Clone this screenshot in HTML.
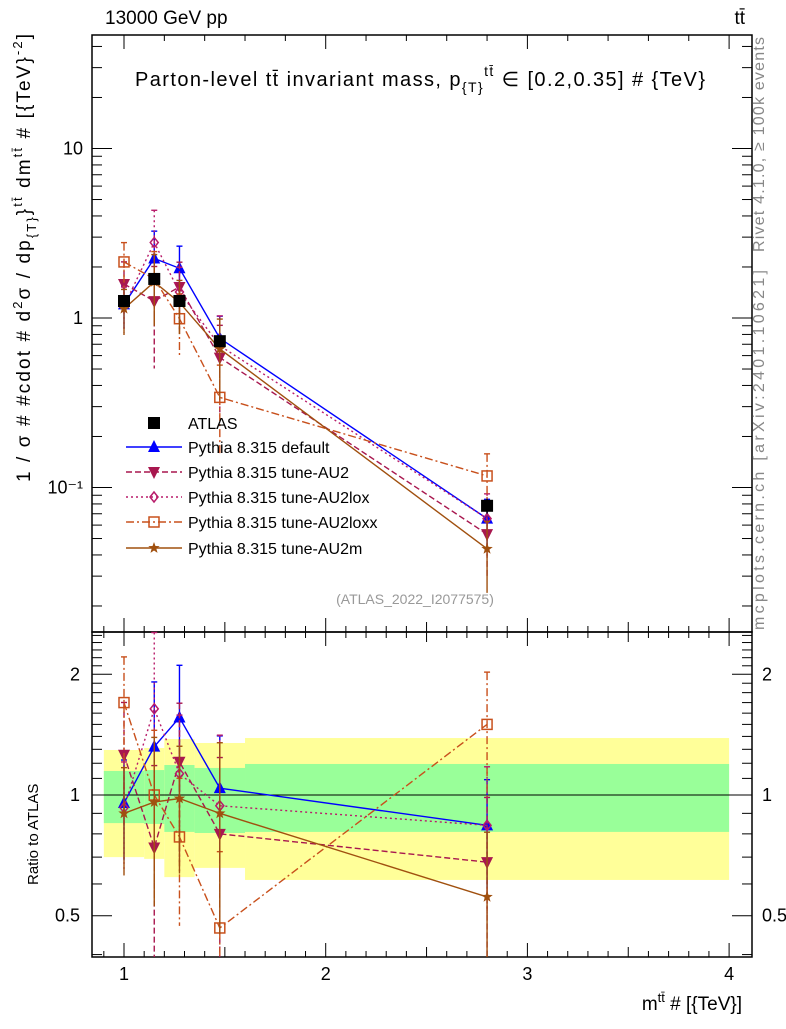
<!DOCTYPE html>
<html><head><meta charset="utf-8"><style>
body{margin:0;background:#fff;}
svg text{font-family:"Liberation Sans",sans-serif;}
</style></head><body>
<svg id="c" width="786" height="1024" xmlns="http://www.w3.org/2000/svg">
<rect width="786" height="1024" fill="#fff"/>
<g id="bands"></g>
<g id="axes"></g>
<g id="series"></g>
<text x="105" y="24" font-size="19">13000 GeV pp</text>
<text x="745" y="24" font-size="19" text-anchor="end">tt̄</text>
<text x="135" y="86" font-size="20" textLength="570" lengthAdjust="spacing">Parton-level tt̄ invariant mass, p<tspan font-size="14" dy="6">{T}</tspan><tspan font-size="14" dy="-16">tt̄</tspan><tspan dy="10"> ∈ [0.2,0.35] # {TeV}</tspan></text>
<text x="415" y="604" font-size="14" fill="#999" text-anchor="middle">(ATLAS_2022_I2077575)</text>
<text transform="translate(764,252) rotate(-90)" font-size="16" fill="#888" textLength="215">Rivet 4.1.0, ≥ 100k events</text>
<text transform="translate(764,630) rotate(-90)" font-size="16" fill="#888" textLength="360">mcplots.cern.ch [arXiv:2401.10621]</text>
<text transform="translate(30,482) rotate(-90)" font-size="19" textLength="448">1 / σ # #cdot # d<tspan font-size="13" dy="-8">2</tspan><tspan dy="8">σ / dp</tspan><tspan font-size="13" dy="6">{T}</tspan><tspan dy="-6">}</tspan><tspan font-size="13" dy="-8">tt̄</tspan><tspan dy="8"> dm</tspan><tspan font-size="13" dy="-8">tt̄</tspan><tspan dy="8"> # [{TeV}</tspan><tspan font-size="13" dy="-8">-2</tspan><tspan dy="8">]</tspan></text>
<text transform="translate(38,885) rotate(-90)" font-size="15">Ratio to ATLAS</text>
<text x="742" y="1010" font-size="19" text-anchor="end">m<tspan font-size="13" dy="-8">tt̄</tspan><tspan dy="8"> # [{TeV}]</tspan></text>
<g id="legend"></g>
</svg>
<script>
const xCenters=[1.0,1.15,1.275,1.475,2.8];
const binEdges=[0.9,1.1,1.2,1.35,1.6,4.0];
const atlasVals=[1.26,1.70,1.26,0.73,0.078];
const atlasErr=[0.08,0.08,0.08,0.08,0.1];
const bandInnerHi=[1.148,1.154,1.188,1.168,1.195];
const bandInnerLo=[0.851,0.847,0.809,0.804,0.809];
const bandOuterHi=[1.295,1.31,1.379,1.348,1.387];
const bandOuterLo=[0.70,0.693,0.624,0.658,0.614];
const ratioDefault=[0.955,1.32,1.56,1.04,0.84];
const ratioAU2=[1.26,0.74,1.21,0.80,0.68];
const ratioAU2lox=[0.93,1.64,1.13,0.94,0.84];
const ratioAU2loxx=[1.70,1.00,0.786,0.466,1.50];
const ratioAU2m=[0.90,0.96,0.98,0.90,0.557];
const errDefault=[0.28,0.45,0.35,0.35,0.3];
const errAU2=[0.35,0.6,0.4,0.55,0.45];
const errAU2lox=[0.3,0.55,0.4,0.5,0.4];
const errAU2loxx=[0.3,0.45,0.4,0.55,0.35];
const errAU2m=[0.3,0.45,0.35,0.5,0.45];
const seriesNames=["Pythia 8.315 default","Pythia 8.315 tune-AU2","Pythia 8.315 tune-AU2lox","Pythia 8.315 tune-AU2loxx","Pythia 8.315 tune-AU2m"];

const NS="http://www.w3.org/2000/svg";
const L=92,R=752,T1=35,B1=632,T2=632,B2=957;
const X=v=>124+(v-1)*201.7;
const Y=v=>318-169.5*Math.log10(v);
const YR=v=>795-401*Math.log10(v);
function mk(tag,attrs,parent){const e=document.createElementNS(NS,tag);for(const k in attrs)e.setAttribute(k,attrs[k]);parent.appendChild(e);return e;}
const gB=document.getElementById('bands'),gA=document.getElementById('axes'),gS=document.getElementById('series'),gL=document.getElementById('legend');

for(let i=0;i<5;i++){
  const x0=X(binEdges[i]),x1=X(binEdges[i+1]);
  let r=mk('rect',{x:x0,y:YR(bandOuterHi[i]),width:x1-x0,height:YR(bandOuterLo[i])-YR(bandOuterHi[i]),fill:'#ffff99'},gB);
  
  
  r=mk('rect',{x:x0,y:YR(bandInnerHi[i]),width:x1-x0,height:YR(bandInnerLo[i])-YR(bandInnerHi[i]),fill:'#99ff99'},gB);
  
  
}
mk('line',{x1:L,x2:R,y1:YR(1),y2:YR(1),stroke:'#000','stroke-width':1},gB);

let f=mk('rect',{x:L,y:T1,width:R-L,height:B1-T1,fill:'none',stroke:'#000','stroke-width':1.5},gA);

f=mk('rect',{x:L,y:T2,width:R-L,height:B2-T2,fill:'none',stroke:'#000','stroke-width':1.5},gA);


for(let k=9;k<=40;k++){const v=k/10,x=X(v);if(x<L||x>R)continue;const maj=k%10==0,mid=k%5==0;
  const len=maj?14:(mid?10:6);
  mk('line',{x1:x,x2:x,y1:B2,y2:B2-len,stroke:'#000'},gA);
  mk('line',{x1:x,x2:x,y1:B1,y2:B1-len,stroke:'#000'},gA);
  mk('line',{x1:x,x2:x,y1:T2,y2:T2+len,stroke:'#000'},gA);
  if(k%2==0||maj) mk('line',{x1:x,x2:x,y1:T1,y2:T1+len,stroke:'#000'},gA);
  if(maj){const t=mk('text',{x:x,y:980,'font-size':18,'text-anchor':'middle'},gA);t.textContent=String(v);
    }
}
for(let d=-2;d<=1;d++)for(let m=1;m<=9;m++){const v=m*Math.pow(10,d),y=Y(v);if(y<T1||y>B1)continue;
  const len=m==1?20:10;
  mk('line',{x1:L,x2:L+len,y1:y,y2:y,stroke:'#000'},gA);
  mk('line',{x1:R,x2:R-len,y1:y,y2:y,stroke:'#000'},gA);
}
[["10⁻¹",0.1],["1",1],["10",10]].forEach(([s,v])=>{const t=mk('text',{x:83,y:Y(v)+6,'font-size':18,'text-anchor':'end'},gA);t.textContent=s;
  });
for(let k=4;k<=25;k++){const v=k/10,y=YR(v);if(y<T2||y>B2)continue;const maj=(k==5||k==10||k==20);
  const len=maj?20:10;
  mk('line',{x1:L,x2:L+len,y1:y,y2:y,stroke:'#000'},gA);
  mk('line',{x1:R,x2:R-len,y1:y,y2:y,stroke:'#000'},gA);
}
[["0.5",0.5],["1",1],["2",2]].forEach(([s,v])=>{
  let t=mk('text',{x:80,y:YR(v)+6,'font-size':18,'text-anchor':'end'},gA);t.textContent=s;
  
  t=mk('text',{x:762,y:YR(v)+6,'font-size':18},gA);t.textContent=s;
  });

function marker(type,x,y,col,g){
  if(type=='sq')return mk('rect',{x:x-6,y:y-6,width:12,height:12,fill:'#000'},g);
  if(type=='tri')return mk('polygon',{points:`${x},${y-7} ${x-6},${y+5} ${x+6},${y+5}`,fill:col},g);
  if(type=='tdn')return mk('polygon',{points:`${x},${y+7} ${x-6},${y-5} ${x+6},${y-5}`,fill:col},g);
  if(type=='dia')return mk('polygon',{points:`${x},${y-5} ${x-4},${y} ${x},${y+5} ${x+4},${y}`,fill:'none',stroke:col,'stroke-width':1.5},g);
  if(type=='osq')return mk('rect',{x:x-5,y:y-5,width:10,height:10,fill:'none',stroke:col,'stroke-width':1.5},g);
  if(type=='star'){let p=[];for(let i=0;i<10;i++){const r=i%2?2.5:6,a=-Math.PI/2+i*Math.PI/5;p.push((x+r*Math.cos(a))+','+(y+r*Math.sin(a)));}
    return mk('polygon',{points:p.join(' '),fill:col},g);}
}
const defs=[
 {r:ratioDefault,e:errDefault,col:'#0000ff',dash:'',m:'tri'},
 {r:ratioAU2,e:errAU2,col:'#a8174f',dash:'6,3',m:'tdn'},
 {r:ratioAU2lox,e:errAU2lox,col:'#b81c6a',dash:'2,3',m:'dia'},
 {r:ratioAU2loxx,e:errAU2loxx,col:'#c8501c',dash:'8,3,2,3',m:'osq'},
 {r:ratioAU2m,e:errAU2m,col:'#a0500f',dash:'',m:'star'}];

defs.forEach((d,si)=>{
  const g=mk('g',{},gS);
  
  
  const mainPts=d.r.map((r,i)=>[X(xCenters[i]),Y(atlasVals[i]*r)]);
  const ratPts=d.r.map((r,i)=>[X(xCenters[i]),YR(r)]);
  [[mainPts,Y,1],[ratPts,YR,0]].forEach(([pts,fy,isMain])=>{
    mk('polyline',{points:pts.map(p=>p.join(',')).join(' '),fill:'none',stroke:d.col,'stroke-width':1.4,'stroke-dasharray':d.dash},g);
    pts.forEach((p,i)=>{
      const base=isMain?atlasVals[i]*d.r[i]:d.r[i];
      const hi=fy(base*(1+d.e[i])),lo=fy(Math.max(base*(1-d.e[i]),1e-3));
      mk('line',{x1:p[0],x2:p[0],y1:hi,y2:Math.min(lo,isMain?B1:B2),stroke:d.col,'stroke-width':1.4,'stroke-dasharray':d.dash},g);
      mk('line',{x1:p[0]-3,x2:p[0]+3,y1:hi,y2:hi,stroke:d.col,'stroke-width':1.4},g);
      const mm=marker(d.m,p[0],p[1],d.col,g);
      
      
    });
  });
});
const gAt=mk('g',{},gS);


atlasVals.forEach((v,i)=>{const x=X(xCenters[i]);
  mk('line',{x1:x,x2:x,y1:Y(v*(1+atlasErr[i])),y2:Y(v*(1-atlasErr[i])),stroke:'#000','stroke-width':1.4},gAt);
  const m=marker('sq',x,Y(v),'#000',gAt);
  
  
});

const legY=[423,447,472,497,522,548];
let le=mk('g',{},gL);


marker('sq',154,legY[0],'#000',le);
let lt=mk('text',{x:188,y:legY[0]+6,'font-size':16},le);lt.textContent='ATLAS';
defs.forEach((d,i)=>{
  const g=mk('g',{},gL);
  
  
  const y=legY[i+1];
  mk('line',{x1:126,x2:182,y1:y,y2:y,stroke:d.col,'stroke-width':1.4,'stroke-dasharray':d.dash},g);
  marker(d.m,154,y,d.col,g);
  const t=mk('text',{x:188,y:y+6,'font-size':16},g);t.textContent=seriesNames[i];
});
</script>
</body></html>
